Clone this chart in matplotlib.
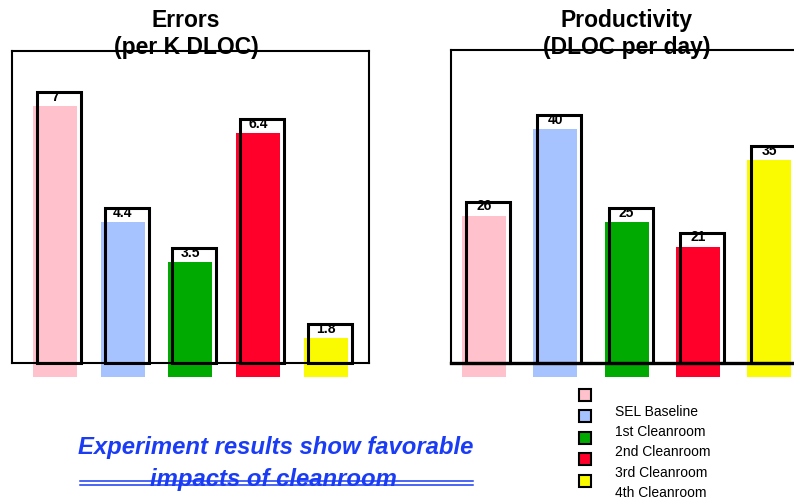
import matplotlib
matplotlib.use("Agg")
import matplotlib.pyplot as plt
from matplotlib.transforms import ScaledTranslation
from matplotlib.patches import Rectangle
from matplotlib.lines import Line2D

plt.rcParams['font.family'] = ['Liberation Sans', 'DejaVu Sans']

# data
groups = ['SEL Baseline', '1st Cleanroom', '2nd Cleanroom', '3rd Cleanroom', '4th Cleanroom']
errors = [7, 4.4, 3.5, 6.4, 1.8]
productivity = [26, 40, 25, 21, 35]
colors = ['#ffc1cc', '#a6c2ff', '#00aa00', '#ff002a', '#fafa00']

W, H = 794, 502
fig = plt.figure(figsize=(W / 100, H / 100), dpi=100)


def px_box(left, top, right, bottom):
    return [left / W, 1 - bottom / H, (right - left) / W, (bottom - top) / H]


def draw_panel(ax, values, y0, width):
    x = list(range(len(values)))
    heights = [v - y0 for v in values]
    # colored bars, drawn slightly shifted (down/left) like the original slide
    shift = ax.transData + ScaledTranslation(-4 / 100, -14 / 100, fig.dpi_scale_trans)
    fills = ax.bar(x, heights, width, bottom=y0, color=colors, linewidth=0, zorder=2)
    for p in fills:
        p.set_transform(shift)
        p.set_clip_on(False)
    outl = ax.bar(x, heights, width, bottom=y0, fill=False, edgecolor='black',
                  linewidth=2.2, zorder=3)
    for p in outl:
        p.set_clip_on(False)
    for xi, v in zip(x, values):
        ax.annotate(f"{v:g}", (xi, v), xytext=(-3, -2.5), textcoords='offset points',
                    ha='center', va='center', fontsize=10, fontweight='bold', zorder=4)
    ax.set_xticks([])
    ax.set_yticks([])
    for s in ax.spines.values():
        s.set_linewidth(1.5)


# left panel: errors
ax1 = fig.add_axes(px_box(12, 52, 369, 364))
draw_panel(ax1, errors, 0.93, 0.65)
ax1.set_xlim(-0.698, 4.583)
ax1.set_ylim(0.93, 7.93)

# right panel: productivity (box runs off the right edge)
ax2 = fig.add_axes(px_box(451, 51, 840, 364))
draw_panel(ax2, productivity, 0, 0.62)
ax2.set_xlim(-0.52, 4.935)
ax2.set_ylim(0, 50.5)
ax2.spines['bottom'].set_linewidth(2.4)

fig.text(186 / W, 1 - 34 / H, "Errors\n(per K DLOC)", ha='center', va='center',
         fontsize=16.5, fontweight='bold', linespacing=1.2, zorder=5)
fig.text(627 / W, 1 - 34 / H, "Productivity\n(DLOC per day)", ha='center', va='center',
         fontsize=16.5, fontweight='bold', linespacing=1.2, zorder=5)

# legend (squares and labels are out of step, as in the original)
for i, c in enumerate(colors):
    cy = 395.5 + 21.6 * i
    fig.add_artist(Rectangle(((585 - 6) / W, 1 - (cy + 6) / H), 12 / W, 12 / H,
                             transform=fig.transFigure, facecolor=c,
                             edgecolor='black', linewidth=1.5))
for i, g in enumerate(groups):
    fig.text(615 / W, 1 - (411.5 + 20.5 * i) / H, g, ha='left', va='center', fontsize=10)

# bottom caption
blue = '#1a3cf5'
for y in (482, 486):
    fig.add_artist(Line2D([80 / W, 473 / W], [1 - y / H, 1 - y / H],
                          transform=fig.transFigure, color=blue, linewidth=1.1))
fig.text(276 / W, 1 - 448 / H, "Experiment results show favorable", ha='center',
         va='center', fontsize=17.2, fontweight='bold', fontstyle='italic', color=blue)
fig.text(273 / W, 1 - 480 / H, "impacts of cleanroom", ha='center',
         va='center', fontsize=17.2, fontweight='bold', fontstyle='italic', color=blue)

fig.savefig("out.png", dpi=100)
